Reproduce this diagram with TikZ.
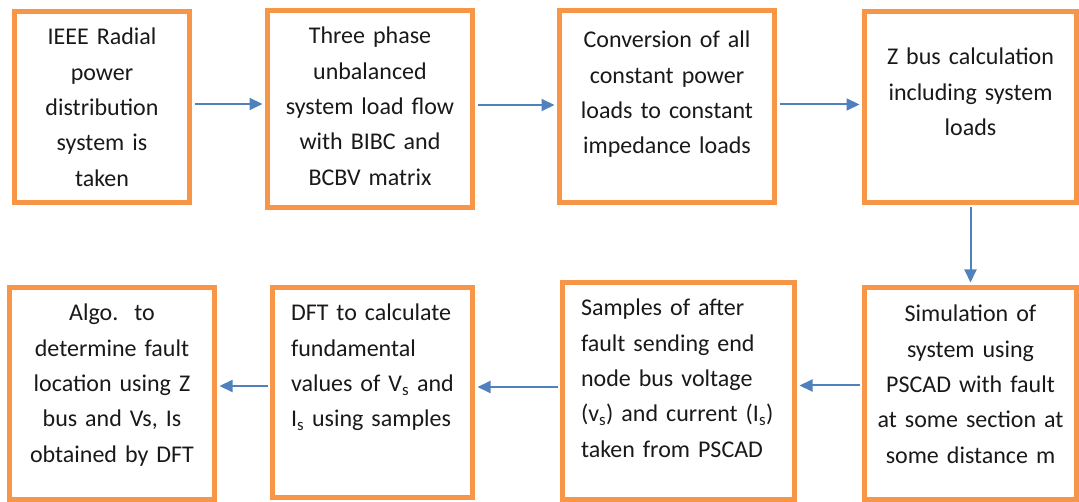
\documentclass[tikz,border=0pt]{standalone}
\usepackage{fontspec}
\setmainfont{Carlito}
\usepackage{xcolor}
\usepackage{tikz}
\usetikzlibrary{positioning, arrows.meta, calc}

\definecolor{boxorange}{HTML}{F79646}
\definecolor{flowblue}{HTML}{4F81BD}

\begin{document}
\begin{tikzpicture}[%
    x=1pt, y=-1pt,      % pixel like units, y grows downwards
    stepbox/.style={draw=boxorange, line width=5pt, inner sep=0pt,
        font=\fontsize{24}{35.3}\selectfont, text=black!90},
    flow/.style={-{Triangle[length=13pt, width=12pt]}, draw=flowblue,
        line width=2pt, shorten >=2.5pt, shorten <=2.5pt}
]
    \useasboundingbox (0,0) rectangle (1079,502);

    % ==========================================
    % 1. Top row (left to right)
    % ==========================================
    \node[stepbox, minimum width=175pt, text width=150pt, align=center,
          text height=33.5pt, text depth=157.5pt] (b1) at (102,107)
        {IEEE Radial\\power\\distribution\\system is\\taken};
    \node[stepbox, minimum width=205pt, text width=190pt, align=center,
          text height=33.5pt, text depth=163.5pt] (b2) at (370,109)
        {Three phase\\unbalanced\\system load flow\\with BIBC and\\BCBV matrix};
    \node[stepbox, minimum width=215pt, text width=200pt, align=center,
          text height=37.5pt, text depth=154.5pt] (b3) at (667,106.5)
        {Conversion of all\\constant power\\loads to constant\\impedance loads};
    \node[stepbox, minimum width=212pt, text width=200pt, align=center,
          text height=53.5pt, text depth=137.5pt] (b4) at (970.5,107)
        {Z bus calculation\\including system\\loads};

    % ==========================================
    % 2. Bottom row (right to left)
    % ==========================================
    \node[stepbox, minimum width=212pt, text width=200pt, align=center,
          text height=34.5pt, text depth=177.5pt] (b8) at (970.5,393.5)
        {Simulation of\\system using\\PSCAD with fault\\at some section at\\some distance m};
    \node[stepbox, minimum width=232pt, text width=195pt, align=left,
          text height=33.5pt, text depth=183.5pt] (b7) at (678.5,391)
        {Samples of after\\fault sending end\\node bus voltage\\(v\textsubscript{s}) and current (I\textsubscript{s})\\taken from PSCAD};
    \node[stepbox, minimum width=200pt, text width=163pt, align=left,
          text height=33.5pt, text depth=176.5pt] (b6) at (372.5,392.5)
        {DFT to calculate\\fundamental\\values of V\textsubscript{s} and\\I\textsubscript{s} using samples};
    \node[stepbox, minimum width=205pt, text width=195pt, align=center,
          text height=33.5pt, text depth=178.5pt] (b5) at (112,393.5)
        {Algo.\ \ to\\determine fault\\location using Z\\bus and Vs, Is\\obtained by DFT};

    % ==========================================
    % 3. Arrows
    % ==========================================
    \draw[flow] ([yshift=3pt]b1.east) -- ([yshift=3pt]b1.east -| b2.west);
    \draw[flow] ([yshift=4pt]b2.east) -- ([yshift=4pt]b2.east -| b3.west);
    \draw[flow] ([yshift=2pt]b3.east) -- ([yshift=2pt]b3.east -| b4.west);
    \draw[flow] (b4) -- (b8);
    \draw[flow] ([yshift=8pt]b8.west) -- ([yshift=8pt]b8.west -| b7.east);
    \draw[flow] ([yshift=4pt]b7.west) -- ([yshift=4pt]b7.west -| b6.east);
    \draw[flow] ([yshift=6.5pt]b6.west) -- ([yshift=6.5pt]b6.west -| b5.east);

\end{tikzpicture}
\end{document}
